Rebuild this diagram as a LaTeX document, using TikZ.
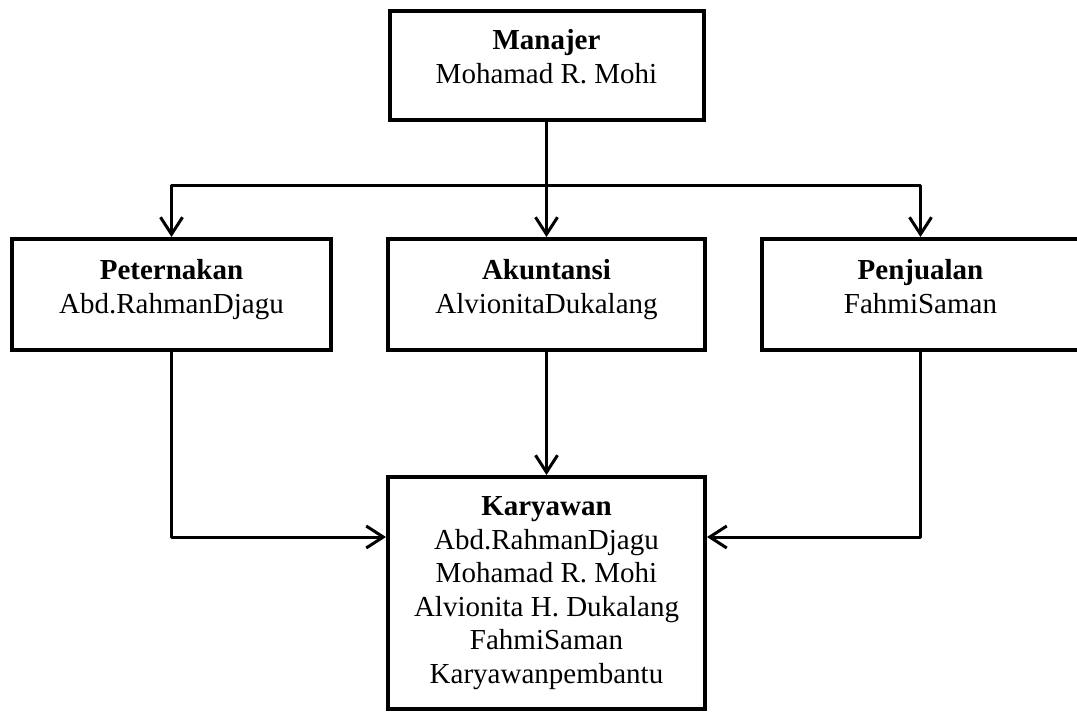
\documentclass[tikz,border=0pt]{standalone}
\usepackage{fontspec}
\setmainfont{Liberation Serif}
\usepackage{tikz}
\usetikzlibrary{arrows.meta}
\definecolor{ink}{HTML}{000000}
\definecolor{paper}{HTML}{FFFFFF}
\tikzset{
  unit/.style={draw=ink, fill=paper, line width=4pt, rectangle, inner sep=0pt,
    align=center, text=ink, font=\fontsize{29}{33.5}\selectfont},
  mid/.style={unit, minimum height=111pt, text depth=16pt},
  link/.style={draw=ink, line width=3pt, line join=round,
    -{Straight Barb[length=17pt,width=22pt]}},
}

\begin{document}
\begin{tikzpicture}[x=1pt,y=-1pt]
  \useasboundingbox (0,0) rectangle (1077,713);
  % boxes
  \node[unit, minimum width=314pt, minimum height=109pt, text depth=18pt] (manajer) at (546.5,65.5) {\textbf{Manajer}\\Mohamad R. Mohi};
  \node[mid, minimum width=319pt] (peternakan) at (171.5,294.5) {\textbf{Peternakan}\\Abd.RahmanDjagu};
  \node[mid, minimum width=317pt] (akuntansi) at (546.5,294.5) {\textbf{Akuntansi}\\AlvionitaDukalang};
  \node[mid, minimum width=317pt] (penjualan) at (920.5,294.5) {\textbf{Penjualan}\\FahmiSaman};
  \node[unit, minimum width=317pt, minimum height=232pt] (karyawan) at (546.5,593) {\textbf{Karyawan}\\Abd.RahmanDjagu\\Mohamad R. Mohi\\Alvionita H. Dukalang\\FahmiSaman\\Karyawanpembantu};
  % connectors
  \coordinate (split) at (546.5,185);
  \coordinate (join) at (0,537);
  \draw[link] (manajer.south) -- (akuntansi.north);
  \draw[link] (split) -| (peternakan.north);
  \draw[link] (split) -| (penjualan.north);
  \draw[link] (akuntansi.south) -- (karyawan.north);
  \draw[link] (peternakan.south) |- (karyawan.west |- join);
  \draw[link] (penjualan.south) |- (karyawan.east |- join);
\end{tikzpicture}
\end{document}
